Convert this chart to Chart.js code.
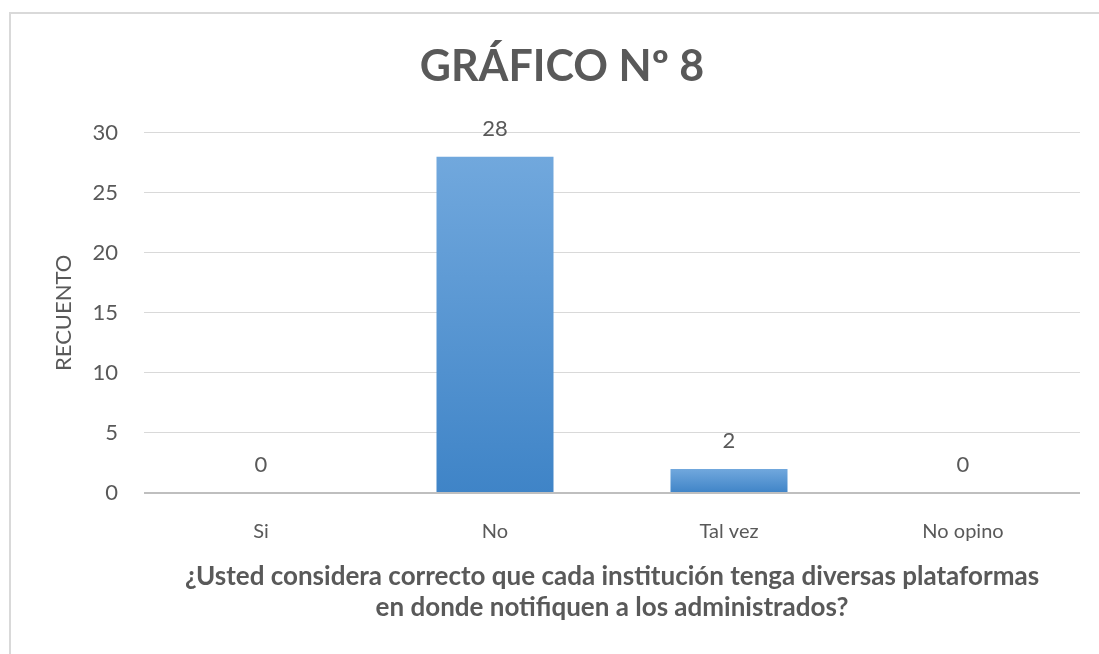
<!DOCTYPE html>
<html>
<head>
<meta charset="utf-8">
<script src="https://cdn.jsdelivr.net/npm/chart.js@4.4.1/dist/chart.umd.min.js"></script>
<style>
  html, body { margin: 0; padding: 0; background: #ffffff; }
  canvas { display: block; }
</style>
</head>
<body>
<canvas id="grafico8" width="1099" height="654"></canvas>
<script>
// datos del gráfico
const categorias = ['Si', 'No', 'Tal vez', 'No opino'];
const recuento = [0, 28, 2, 0];
const ticksY = [0, 5, 10, 15, 20, 25, 30];

const titulo = 'GRÁFICO Nº 8';
const tituloY = 'RECUENTO';
const tituloX = [
    '¿Usted considera correcto que cada institución tenga diversas plataformas',
    'en donde notifiquen a los administrados?'
];

const gris = '#595959';
const fuente = "Lato, 'Open Sans', sans-serif";

// Marco gris del área del gráfico (recortado a la derecha y abajo)
const marco = {
    id: 'marco',
    beforeDraw(chart) {
        const ctx = chart.ctx;
        ctx.save();
        ctx.fillStyle = '#ffffff';
        ctx.fillRect(0, 0, chart.width, chart.height);
        ctx.strokeStyle = '#d9d9d9';
        ctx.lineWidth = 2;
        ctx.strokeRect(10, 13, chart.width + 20, chart.height + 20);
        ctx.restore();
    }
};

// Etiquetas de valor encima de cada barra
const etiquetas = {
    id: 'etiquetas',
    afterDatasetsDraw(chart) {
        const ctx = chart.ctx;
        const meta = chart.getDatasetMeta(0);
        ctx.save();
        ctx.font = '22px ' + fuente;
        ctx.fillStyle = gris;
        ctx.textAlign = 'center';
        ctx.textBaseline = 'alphabetic';
        meta.data.forEach((bar, i) => {
            ctx.fillText(String(recuento[i]), bar.x, bar.y - 21);
        });
        ctx.restore();
    }
};

// degradado por barra: claro arriba, oscuro abajo
function degradado(c) {
    const chart = c.chart;
    const y = chart.scales.y;
    if (!y || c.raw === undefined) return '#5b9bd5';
    const top = y.getPixelForValue(c.raw);
    const base = y.getPixelForValue(0);
    if (!isFinite(top) || !isFinite(base) || base - top < 1) return '#5b9bd5';
    const g = chart.ctx.createLinearGradient(0, top, 0, base);
    g.addColorStop(0, '#71a8dd');
    g.addColorStop(1, '#3f84c7');
    return g;
}

new Chart(document.getElementById('grafico8'), {
    type: 'bar',
    data: {
        labels: categorias,
        datasets: [{
            label: tituloY,
            data: recuento,
            backgroundColor: degradado,
            borderWidth: 0,
            categoryPercentage: 1,
            barPercentage: 0.5
        }]
    },
    options: {
        responsive: false,
        devicePixelRatio: 1,
        animation: false,
        layout: {
            padding: { left: 44, right: 19, top: 0, bottom: 0 }
        },
        plugins: {
            legend: { display: false },
            tooltip: { enabled: false },
            title: {
                display: true,
                text: titulo,
                color: gris,
                font: { family: fuente, size: 43, weight: 'bold', lineHeight: 1.2 },
                padding: { top: 41, bottom: 40 }
            }
        },
        scales: {
            x: {
                grid: { display: false },
                border: { display: false },
                ticks: {
                    color: gris,
                    font: { family: fuente, size: 20 },
                    padding: 19
                },
                title: {
                    display: true,
                    text: tituloX,
                    color: gris,
                    font: { family: fuente, size: 26, weight: 'bold', lineHeight: 1.2 },
                    padding: { top: 10, bottom: 31 }
                },
                afterFit(s) { s.height = 161; }
            },
            y: {
                min: 0,
                max: 30,
                afterBuildTicks(s) { s.ticks = ticksY.map(v => ({ value: v })); },
                grid: {
                    color: c => c.tick && c.tick.value === 0 ? '#bfbfbf' : '#d9d9d9',
                    lineWidth: c => c.tick && c.tick.value === 0 ? 2 : 1,
                    drawTicks: false
                },
                border: { display: false },
                ticks: {
                    color: gris,
                    font: { family: fuente, size: 22 },
                    padding: 26
                },
                title: {
                    display: true,
                    text: tituloY,
                    color: gris,
                    font: { family: fuente, size: 22, lineHeight: 1.2 },
                    padding: { top: 7, bottom: 10 }
                },
                afterFit(s) { s.width = 100; }
            }
        }
    },
    plugins: [marco, etiquetas]
});
</script>
</body>
</html>
